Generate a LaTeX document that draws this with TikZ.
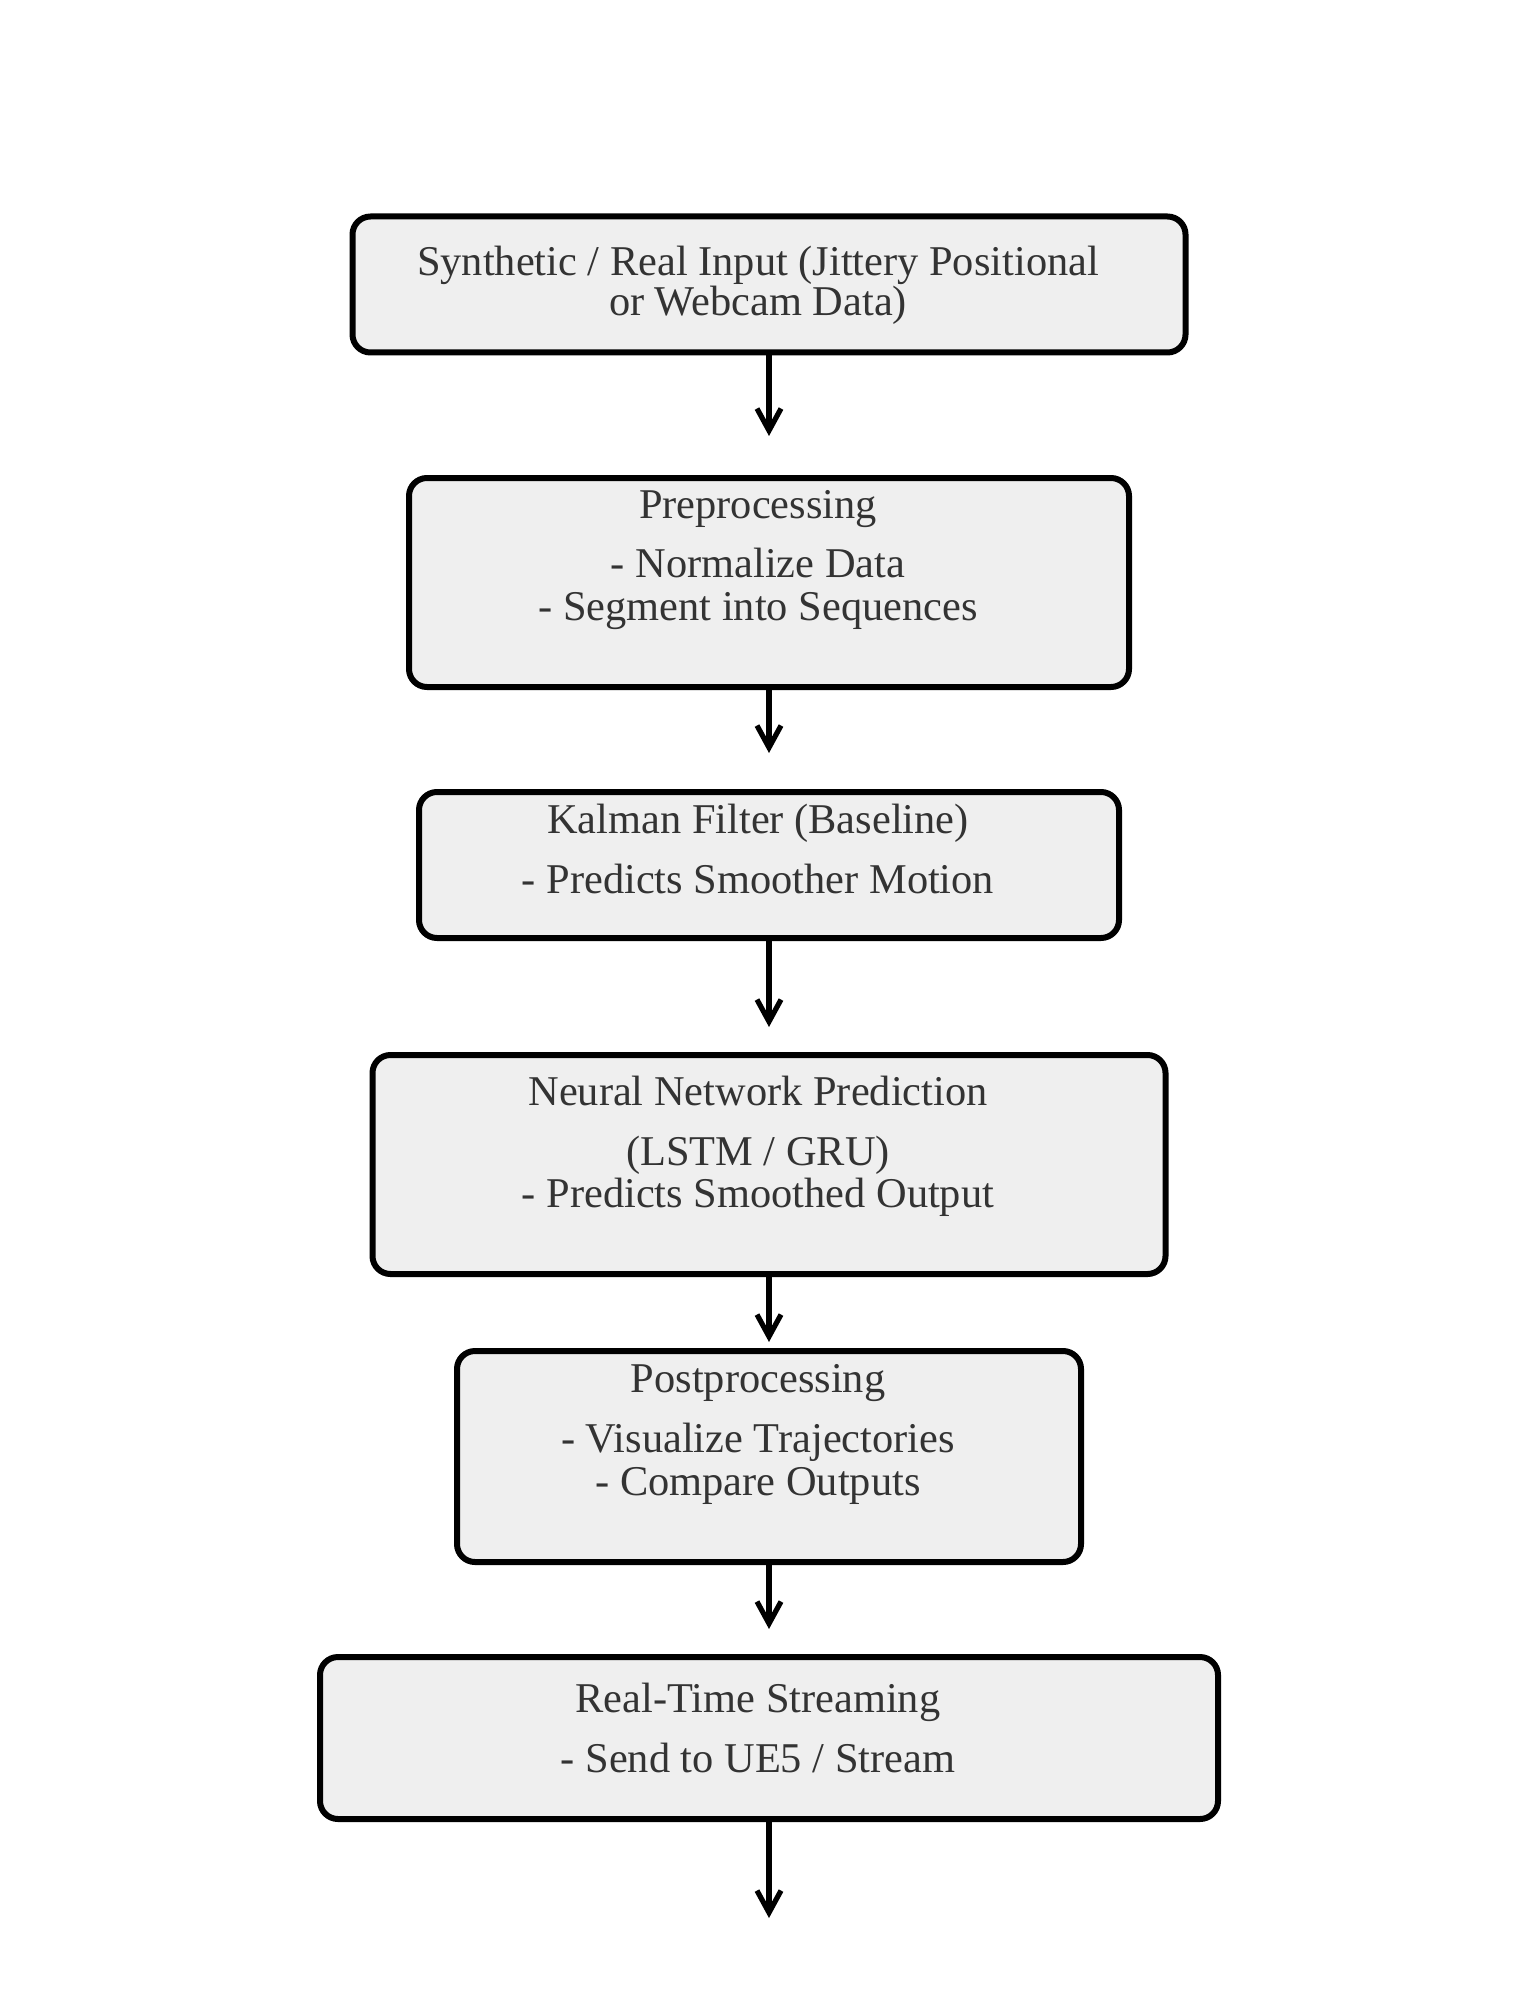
\documentclass[tikz,border=0pt]{standalone}
\usepackage{fontspec}
\setmainfont{Liberation Serif}
\usetikzlibrary{arrows.meta}
\definecolor{boxfill}{HTML}{EFEFEF}
\definecolor{txtcol}{HTML}{333333}
\tikzset{
  stagebox/.style={draw=black, line width=3pt, fill=boxfill, rounded corners=9pt, inner sep=0pt},
  stagetext/.style={text=txtcol, anchor=base, inner sep=0pt, font=\fontsize{21.2}{24}\selectfont},
  flowarrow/.style={draw=black, line width=2.6pt, -{Straight Barb[length=11pt, width=12pt, line width=2.6pt]}}
}
\begin{document}
\begin{tikzpicture}[x=0.5pt, y=-0.5pt]
\useasboundingbox (0,0) rectangle (1540,2000);
\fill[white] (0,0) rectangle (1540,2000);
% boxes
\node[stagebox, minimum width=416.5pt, minimum height=68pt] (b1) at (769,284.5) {};
\node[stagebox, minimum width=360pt, minimum height=104.5pt] (b2) at (769,582.5) {};
\node[stagebox, minimum width=350pt, minimum height=73pt] (b3) at (769,865) {};
\node[stagebox, minimum width=396.5pt, minimum height=109.5pt] (b4) at (769,1164.5) {};
\node[stagebox, minimum width=312pt, minimum height=105.5pt] (b5) at (769,1456.5) {};
\node[stagebox, minimum width=449pt, minimum height=81pt] (b6) at (769,1738) {};
% texts
\node[stagetext] (t1a) at (758,276) {Synthetic / Real Input (Jittery Positional};
\node[stagetext] (t1b) at (758,316) {or Webcam Data)};
\node[stagetext] (t2a) at (758,518) {Preprocessing};
\node[stagetext] (t2b) at (758,577) {- Normalize Data};
\node[stagetext] (t2c) at (758,620) {- Segment into Sequences};
\node[stagetext] (t3a) at (758,833) {Kalman Filter (Baseline)};
\node[stagetext] (t3b) at (758,893) {- Predicts Smoother Motion};
\node[stagetext] (t4a) at (758,1105) {Neural Network Prediction};
\node[stagetext] (t4b) at (758,1165) {(LSTM / GRU)};
\node[stagetext] (t4c) at (758,1207) {- Predicts Smoothed Output};
\node[stagetext] (t5a) at (758,1392) {Postprocessing};
\node[stagetext] (t5b) at (758,1452) {- Visualize Trajectories};
\node[stagetext] (t5c) at (758,1495) {- Compare Outputs};
\node[stagetext] (t6a) at (758,1712) {Real-Time Streaming};
\node[stagetext] (t6b) at (758,1772) {- Send to UE5 / Stream};
% arrow ends
\coordinate (e1) at (769,436);
\coordinate (e2) at (769,753);
\coordinate (e3) at (769,1027);
\coordinate (e4) at (769,1342);
\coordinate (e5) at (769,1629);
\coordinate (e6) at (769,1918);
\draw[flowarrow] (b1.south) -- (e1);
\draw[flowarrow] (b2.south) -- (e2);
\draw[flowarrow] (b3.south) -- (e3);
\draw[flowarrow] (b4.south) -- (e4);
\draw[flowarrow] (b5.south) -- (e5);
\draw[flowarrow] (b6.south) -- (e6);
\end{tikzpicture}
\end{document}
